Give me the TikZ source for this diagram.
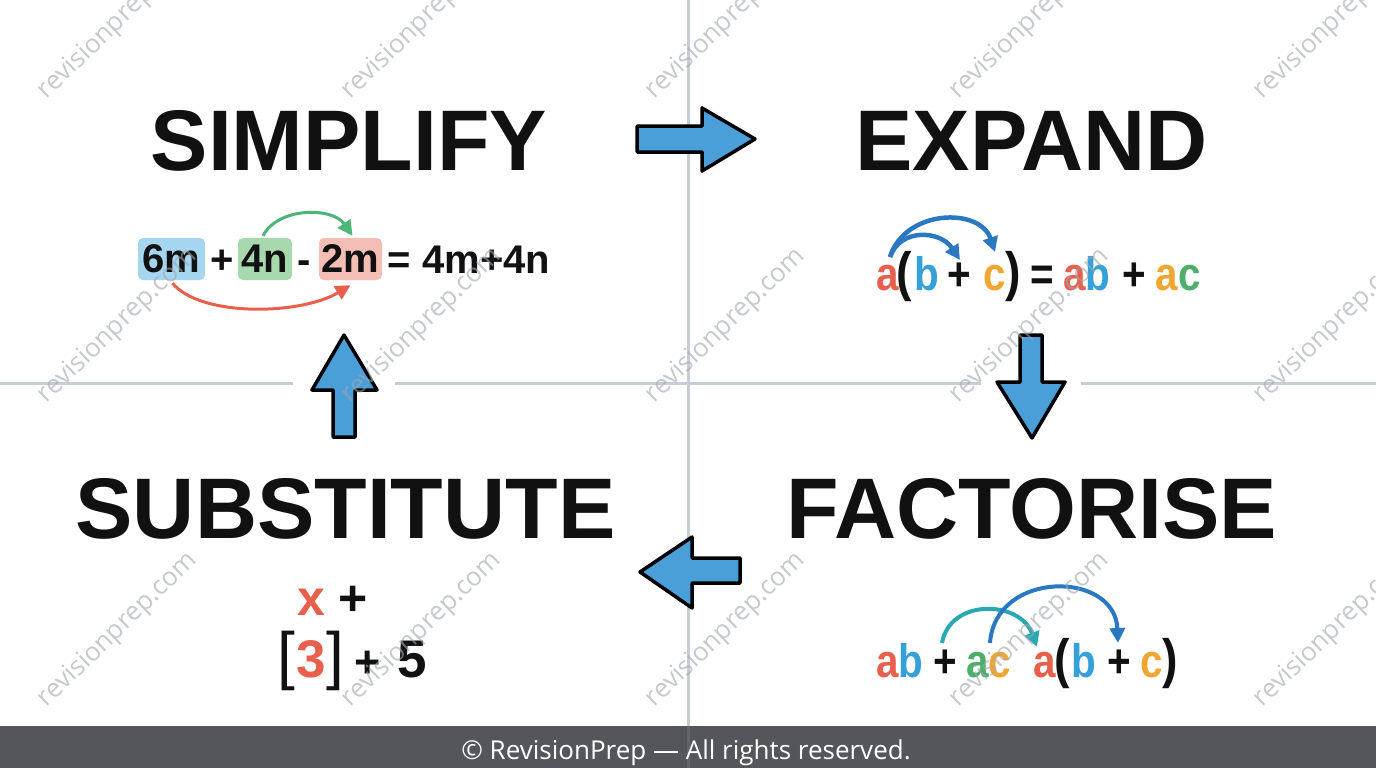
\documentclass[tikz,border=0pt]{standalone}
\usepackage{fontspec}
\setmainfont{Liberation Sans}
\newfontfamily\WmFont{Open Sans}
\newfontfamily\AlgFam[FakeStretch=0.86]{Liberation Sans}
\usetikzlibrary{arrows.meta,calc}
\definecolor{ink}{HTML}{111111}
\definecolor{gridc}{HTML}{C5CED6}
\definecolor{wmc}{HTML}{A0A6AE}
\definecolor{footc}{HTML}{54565B}
\definecolor{blkarrow}{HTML}{4B9FD9}
\definecolor{cred}{HTML}{E8604C}
\definecolor{cblue}{HTML}{36A0D8}
\definecolor{corange}{HTML}{F0A630}
\definecolor{cgreen}{HTML}{4CAF6A}
\definecolor{carrgreen}{HTML}{4CB57A}
\definecolor{carrblue}{HTML}{2B78C2}
\definecolor{carrteal}{HTML}{2AA8B2}
\definecolor{boxblue}{HTML}{A6D5F0}
\definecolor{boxgreen}{HTML}{A8D8AE}
\definecolor{boxpink}{HTML}{F5BEB5}
\newcommand\TtlFont{\fontsize{86}{90}\selectfont\bfseries}
\newcommand\SimpFont{\fontsize{40}{44}\selectfont\bfseries}
\newcommand\AlgFont{\AlgFam\fontsize{47}{52}\selectfont\bfseries}
\newcommand\ParFont{\AlgFam\fontsize{54}{58}\selectfont\bfseries}
\newcommand\SubAFont{\fontsize{50}{54}\selectfont\bfseries}
\newcommand\SubBFont{\fontsize{53}{58}\selectfont\bfseries}
\newcommand\SubPFont{\fontsize{45}{50}\selectfont\bfseries}
\newcommand\BrkFont{\fontsize{64}{68}\selectfont}
\begin{document}
\begin{tikzpicture}[x=1pt,y=-1pt,
  title/.style={font=\TtlFont, text=ink, inner sep=0pt, anchor=base},
  simp/.style={font=\SimpFont, text=ink, inner sep=0pt, anchor=base},
  tbox/.style={font=\SimpFont, text=ink, inner sep=0pt, minimum height=42pt, rounded corners=5pt},
  alg/.style={font=\AlgFont, text=ink, inner sep=0pt, anchor=base},
  par/.style={font=\ParFont, text=ink, inner sep=0pt, anchor=base},
  suba/.style={font=\SubAFont, text=ink, inner sep=0pt, anchor=base},
  subb/.style={font=\SubBFont, text=ink, inner sep=0pt, anchor=base},
  subp/.style={font=\SubPFont, text=ink, inner sep=0pt, anchor=base},
  brk/.style={font=\BrkFont, text=ink, inner sep=0pt, anchor=base},
  gridline/.style={draw=gridc, line width=3pt},
  blockarrow/.style={fill=blkarrow, draw=black, line width=3.5pt, line join=round},
  curvearrow/.style={line width=#1, -{Triangle[length=15pt,width=15pt]}},
  wm/.style={font=\WmFont\fontsize{26}{30}\selectfont, text=wmc, text opacity=0.6, rotate=44, inner sep=0pt},
]
\useasboundingbox (0,0) rectangle (1376,768);
\fill[white] (0,0) rectangle (1376,768);

% grid lines
\draw[gridline] (688,0) -- (688,726);
\draw[gridline] (0,383) -- (293,383);
\draw[gridline] (395,383) -- (981,383);
\draw[gridline] (1081,383) -- (1376,383);

% titles
\node[title] (tsimp) at (349,170) {SIMPLIFY};
\node[title] (texp) at (1031.5,170) {EXPAND};
\node[title] (tsub) at (345.5,538) {SUBSTITUTE};
\node[title] (tfac) at (1031.5,538) {FACTORISE};

% simplify equation
\node[tbox, fill=boxblue, minimum width=67pt] (b6m) at (171.5,259) {6m};
\node[simp] (sp1) at (222,273) {+};
\node[tbox, fill=boxgreen, minimum width=54pt] (b4n) at (265,259) {4n};
\node[simp] (smin) at (304,273) {-};
\node[tbox, fill=boxpink, minimum width=63pt] (b2m) at (350.5,259) {2m};
\node[simp] (sres) at (469,273) {= 4m+4n};
\draw[carrgreen, curvearrow=3pt] ($(b4n.north)+(-2,-2)$) .. controls +(15,-29) and +(-20,-29) .. ($(b2m.north)+(2,-2)$);
\draw[cred, curvearrow=3pt] ($(b6m.south)+(1,3)$) .. controls +(28,34) and +(-50,30) .. ($(b2m.south)+(0,5)$);

% expand equation
\node[alg, text=cred] (ea1) at (887.5,290) {a};
\node[par] (eop) at (904,290) {(};
\node[alg, text=cblue] (eb1) at (927,290) {b};
\node[alg] (ep1) at (959,290) {+};
\node[alg, text=corange] (ec1) at (995,290) {c};
\node[par] (ecp) at (1013,290) {)};
\node[alg] (eeq) at (1042,290) {=};
\node[alg, text=cred] (ea2) at (1075,290) {a};
\node[alg, text=cblue] (eb2) at (1097.5,290) {b};
\node[alg] (ep2) at (1134,290) {+};
\node[alg, text=corange] (ea3) at (1167,290) {a};
\node[alg, text=cgreen] (ec2) at (1190,290) {c};
\draw[carrblue, curvearrow=4.5pt] ($(ea1.base)+(2.5,-33)$) .. controls +(10,-29) and +(-20,-30) .. ($(ep1.base)+(1,-30)$);
\draw[carrblue, curvearrow=4.5pt] ($(ea1.base)+(2.5,-33)$) .. controls +(15,-48) and +(-15,-45) .. ($(ec1.base)+(0,-38)$);

% factorise equation
\node[alg, text=cred] (fa1) at (887.5,677) {a};
\node[alg, text=cblue] (fb1) at (911,677) {b};
\node[alg] (fp1) at (945,677) {+};
\node[alg, text=cgreen] (fa2) at (978,677) {a};
\node[alg, text=corange] (fc1) at (1000,677) {c};
\node[alg, text=cred] (fa3) at (1045,677) {a};
\node[par] (fop) at (1062.5,677) {(};
\node[alg, text=cblue] (fb2) at (1084,677) {b};
\node[alg] (fp2) at (1119,677) {+};
\node[alg, text=corange] (fc2) at (1152,677) {c};
\node[par] (fcp) at (1170,677) {)};
\draw[carrteal, curvearrow=4pt] ($(fp1.base)+(-3,-34)$) .. controls +(8,-45) and +(-17,-47) .. ($(fa3.base)+(-8,-30)$);
\draw[carrblue, curvearrow=4pt] ($(fa2.base)+(12,-34)$) .. controls +(5,-73) and +(-3,-73) .. ($(fp2.base)+(-1,-34)$);

% substitute
\node[suba, text=cred] (sx) at (311,615) {x};
\node[suba] (sxp) at (353.5,615) {+};
\node[brk] (slb) at (286,677) {[};
\node[subb, text=cred] (s3) at (311,677) {3};
\node[brk] (srb) at (335,677) {]};
\node[subp] (s3p) at (368,677) {+};
\node[subb] (s5) at (412.5,677) {5};

% block arrows
\draw[blockarrow] (637,126) -- (702,126) -- (702,108) -- (755,139) -- (702,171) -- (702,152) -- (637,152) -- cycle;
\draw[blockarrow] (1020,335) -- (1042,335) -- (1042,382) -- (1065,382) -- (1032,438) -- (997,382) -- (1020,382) -- cycle;
\draw[blockarrow] (740,558) -- (692,558) -- (692,537) -- (640,572) -- (692,608) -- (692,583) -- (740,583) -- cycle;
\draw[blockarrow] (333,437) -- (333,390) -- (312,390) -- (344,335) -- (377,390) -- (355,390) -- (355,437) -- cycle;

% watermarks
\foreach \wx in {118,422,726,1030,1334}{
  \foreach \wy in {22,326,630}{
    \node[wm] (wm\wx-\wy) at (\wx,\wy) {revisionprep.com};
  }
}

% footer
\fill[footc] (0,726) rectangle (1376,768);
\draw[gridc, line width=3pt, opacity=0.12] (688,726) -- (688,768);
\node[font=\WmFont\fontsize{26}{30}\selectfont, text=white, inner sep=0pt, anchor=base] (foot) at (686,759) {© RevisionPrep — All rights reserved.};
\end{tikzpicture}
\end{document}
